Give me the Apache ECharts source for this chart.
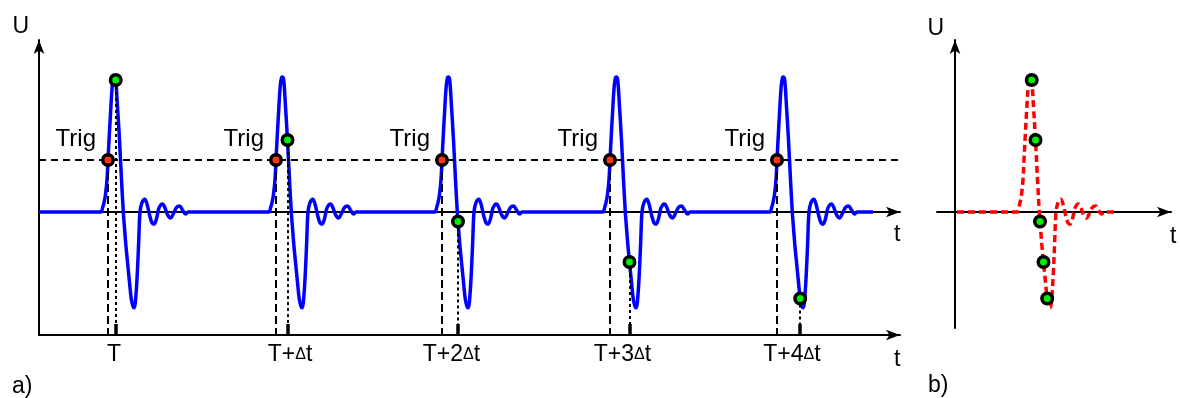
<!DOCTYPE html>
<html>
<head>
<meta charset="utf-8">
<script src="https://cdn.jsdelivr.net/npm/echarts@6/dist/echarts.min.js"></script>
<style>html,body{margin:0;padding:0;background:#fff}#c{width:1180px;height:398px}</style>
</head>
<body>
<div id="c"></div>
<script>
// ---- data (time in arbitrary units, U normalised to pulse peak = 1) ----
// one pulse, time relative to the trigger crossing
const pulseT = [-12, -7, -5.5, -4, -2.5, -1, 0, 1.3, 2.7, 4.2, 5.5, 6.3, 7.7, 9.5, 11.5, 13.5, 15.3, 16, 17.8, 19.5, 21.5, 23.2, 25, 26.3, 27.6, 29.2, 30.7, 32, 34, 36.8, 39, 41.5, 44, 46, 48.5, 51, 54.5, 57, 59.5, 62.5, 65.5, 68.5, 71.5, 74.5, 77.5, 80, 83];
const pulseU = [0, 0, 0.03, 0.07, 0.13, 0.24, 0.385, 0.57, 0.755, 0.93, 0.995, 1.0, 0.978, 0.78, 0.533, 0.24, 0.0, -0.07, -0.24, -0.37, -0.52, -0.641, -0.70, -0.71, -0.65, -0.47, -0.22, 0.0, 0.07, 0.095, 0.06, -0.02, -0.08, -0.09, -0.05, 0.03, 0.06, 0.03, -0.02, -0.045, -0.01, 0.035, 0.045, 0.015, -0.015, 0, 0];
const trigTimes = [69, 237, 403, 571, 738];          // a) trigger instants
const sampleDelays = [7.7, 11.5, 16, 19.5, 23.2];    // sample delay after trigger
const sampleU = [0.978, 0.533, -0.07, -0.37, -0.641]; // sampled values
const trigLevel = 0.385;
const tickLabels = ['T', 'T+Δt', 'T+2Δt', 'T+3Δt', 'T+4Δt'];
const tickLabelAt = [75, 251, 412.5, 583.5, 753];
const traceSpanA = [0, 834];
const trigLineSpan = [0, 867];
const recTrig = 69;                 // b) reconstructed pulse position
const traceSpanB = [2, 163];
const axisA = { xMin: 0, xMax: 861, yMin: -0.911, yMax: 1.274 };
const axisB = { xMin: -18, xMax: 216, yMin: -0.859, yMax: 1.274 };

// ---- build series data ----
const bluePts = [[traceSpanA[0], 0]];
trigTimes.forEach(tt => pulseT.forEach((r, i) => bluePts.push([tt + r, pulseU[i]])));
bluePts.push([traceSpanA[1], 0]);

const redPts = [[traceSpanB[0], 0]];
pulseT.forEach((r, i) => redPts.push([recTrig + r, pulseU[i]]));
redPts.push([traceSpanB[1], 0]);

const sampleTimes = trigTimes.map((t, k) => t + sampleDelays[k]);
const samplePtsA = sampleTimes.map((t, k) => [t, sampleU[k]]);
const samplePtsB = sampleDelays.map((d, k) => [recTrig + d, sampleU[k]]);
const trigPts = trigTimes.map(t => [t, trigLevel]);

const guides = [];
trigTimes.forEach(t => guides.push([
  { coord: [t, trigLevel], lineStyle: { type: [8, 4], width: 2, color: '#000' } },
  { coord: [t, axisA.yMin] }]));
samplePtsA.forEach(p => guides.push([
  { coord: [p[0], p[1]], lineStyle: { type: [3, 3], width: 2, color: '#000' } },
  { coord: [p[0], axisA.yMin] }]));

const FONT = 'Liberation Sans, Arial, Helvetica, sans-serif';
const arrowLine = (onZero) => ({
  show: true, onZero: onZero, symbol: ['none', 'arrow'], symbolSize: [8, 14],
  lineStyle: { color: '#000', width: 2 }
});
const tName = (gap, lh) => ({
  name: 't', nameLocation: 'end', nameGap: gap, nameMoveOverlap: false,
  nameTextStyle: { fontSize: 23, fontFamily: FONT, color: '#000', align: 'left', verticalAlign: 'top', lineHeight: lh }
});
const uName = (gap, pad) => ({
  name: 'U', nameLocation: 'end', nameGap: gap, nameMoveOverlap: false,
  nameTextStyle: { fontSize: 23, fontFamily: FONT, color: '#000', align: 'right', verticalAlign: 'middle', padding: [0, pad, 0, 0] }
});
const hidden = { axisTick: { show: false }, axisLabel: { show: false }, splitLine: { show: false } };

const greenStyle = { color: '#00ee00', borderColor: '#000', borderWidth: 3.5, opacity: 1 };

const option = {
  animation: false,
  backgroundColor: '#fff',
  grid: [
    { left: 39, top: 40, width: 861, height: 295, containLabel: false, outerBoundsMode: 'none' },
    { left: 937, top: 40, width: 234, height: 288, containLabel: false, outerBoundsMode: 'none' }
  ],
  xAxis: [
    Object.assign({ gridIndex: 0, type: 'value', min: axisA.xMin, max: axisA.xMax, axisLine: arrowLine(true) }, hidden, tName(-6, 46)),
    Object.assign({ gridIndex: 0, type: 'value', position: 'bottom', min: axisA.xMin, max: axisA.xMax, axisLine: arrowLine(false),
      splitLine: { show: false },
      axisTick: { show: true, customValues: sampleTimes, inside: true, length: 11, lineStyle: { color: '#000', width: 3.5 } },
      axisLabel: {
        show: true, customValues: tickLabelAt, margin: 8, fontSize: 23, fontFamily: FONT, color: '#000',
        formatter: (v) => {
          let best = 0;
          tickLabelAt.forEach((a, i) => { if (Math.abs(a - v) < Math.abs(tickLabelAt[best] - v)) best = i; });
          return tickLabels[best].replace('Δ', '{d|Δ}');
        },
        rich: { d: { fontSize: 16, fontFamily: FONT, color: '#000' } }
      } }, tName(-6, 50)),
    Object.assign({ gridIndex: 1, type: 'value', min: axisB.xMin, max: axisB.xMax, axisLine: arrowLine(true) }, hidden, tName(-1, 50))
  ],
  yAxis: [
    Object.assign({ gridIndex: 0, type: 'value', min: axisA.yMin, max: axisA.yMax, axisLine: arrowLine(true) }, hidden, uName(13, 10)),
    Object.assign({ gridIndex: 1, type: 'value', min: axisB.yMin, max: axisB.yMax, axisLine: arrowLine(true) }, hidden, uName(11, 11))
  ],
  graphic: [
    { type: 'text', x: 12, y: 387, style: { text: 'a)', fontSize: 23, fontFamily: FONT, fill: '#000', verticalAlign: 'middle' } },
    { type: 'text', x: 928, y: 386, style: { text: 'b)', fontSize: 23, fontFamily: FONT, fill: '#000', verticalAlign: 'middle' } }
  ],
  series: [
    { type: 'line', name: 'signal', xAxisIndex: 0, yAxisIndex: 0, data: bluePts, showSymbol: false, smooth: 0.35,
      lineStyle: { color: '#0000ff', width: 3.5 }, z: 2, silent: true },
    { type: 'line', name: 'trigger', xAxisIndex: 0, yAxisIndex: 0, clip: false,
      data: trigLineSpan.map(x => [x, trigLevel]), showSymbol: false,
      lineStyle: { color: '#000', width: 2, type: [7, 5] }, z: 3, silent: true,
      markLine: { silent: true, symbol: ['none', 'none'], label: { show: false }, animation: false, data: guides } },
    { type: 'scatter', name: 'trig points', xAxisIndex: 0, yAxisIndex: 0, data: trigPts, symbolSize: 10.5,
      itemStyle: { color: '#ff3311', borderColor: '#000', borderWidth: 3.5, opacity: 1 }, z: 5,
      label: { show: true, position: 'left', distance: 5, offset: [0, -21], formatter: 'Trig', fontSize: 24, fontFamily: FONT, color: '#000' } },
    { type: 'scatter', name: 'samples', xAxisIndex: 0, yAxisIndex: 0, data: samplePtsA, symbolSize: 10.5, itemStyle: greenStyle, z: 6 },
    { type: 'line', name: 'reconstructed', xAxisIndex: 2, yAxisIndex: 1, data: redPts, showSymbol: false, smooth: 0.35,
      lineStyle: { color: '#ff0000', width: 3.5, type: [7, 4] }, z: 2, silent: true },
    { type: 'scatter', name: 'samples b', xAxisIndex: 2, yAxisIndex: 1, data: samplePtsB, symbolSize: 10.5, itemStyle: greenStyle, z: 6 }
  ]
};
const chart = echarts.init(document.getElementById('c'), null, { renderer: 'canvas' });
chart.setOption(option);
</script>
</body>
</html>
